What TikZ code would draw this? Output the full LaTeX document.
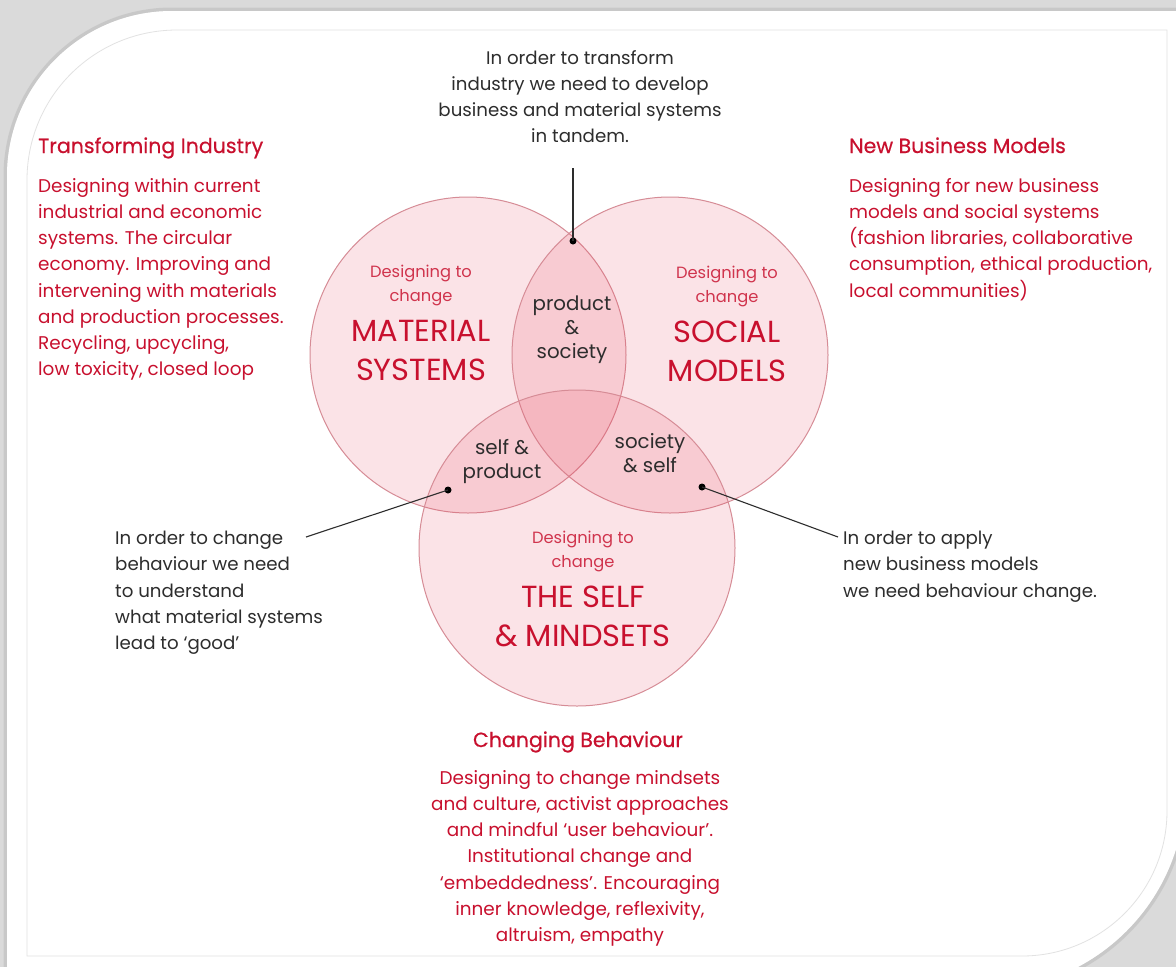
\documentclass[tikz,border=0pt]{standalone}
\usepackage{fontspec}
\setmainfont{Poppins}
\newfontfamily\headfont[FakeBold=0.5]{Poppins}
\usetikzlibrary{positioning}
\definecolor{vennred}{RGB}{200,16,46}
\definecolor{vennpink}{RGB}{232,70,95}
\definecolor{vennedge}{RGB}{214,140,150}
\definecolor{inkgrey}{RGB}{45,45,45}
\definecolor{framegrey}{RGB}{218,218,218}
\definecolor{frameline}{RGB}{226,226,226}
\tikzset{
  venn/.style={
    circle,
    draw=vennedge,
    line width=1pt,
    fill=vennpink,
    fill opacity=0.15,
    minimum size=316pt,
    inner sep=0pt
  },
  heading/.style={
    text=vennred,
    inner sep=0pt,
    font=\headfont\fontsize{20.5}{26}\selectfont
  },
  redbody/.style={
    text=vennred,
    align=left,
    inner sep=0pt,
    font=\fontsize{18.4}{26.2}\selectfont
  },
  note/.style={
    text=inkgrey,
    align=left,
    inner sep=0pt,
    font=\fontsize{18.2}{26.2}\selectfont
  },
  subtitle/.style={
    text=vennred!85,
    align=center,
    inner sep=0pt,
    font=\fontsize{16.3}{24}\selectfont
  },
  bigtitle/.style={
    text=vennred,
    align=center,
    inner sep=0pt,
    font=\fontsize{30.5}{39}\selectfont
  },
  lens/.style={
    text=inkgrey,
    align=center,
    inner sep=0pt,
    font=\fontsize{19.8}{24}\selectfont
  },
  dot/.style={circle,fill=black,minimum size=7pt,inner sep=0pt},
  leader/.style={draw=inkgrey,line width=1.1pt}
}

\begin{document}
\begin{tikzpicture}[x=1pt,y=-1pt]
\useasboundingbox (0,0) rectangle (1176,967);

% card with its shadow
\fill[framegrey] (0,0) rectangle (1176,967);
\path[draw=black!28,line width=7pt,draw opacity=0.5,fill=white]
  (7,1000) -- (7,176) .. controls (7,85) and (81,11) .. (172,11)
  -- (1185,11) -- (1185,790)
  .. controls (1185,900) and (1095,990) .. (985,990) -- cycle;
\fill[white]
  (7,1000) -- (7,176) .. controls (7,85) and (81,11) .. (172,11)
  -- (1185,11) -- (1185,790)
  .. controls (1185,900) and (1095,990) .. (985,990) -- cycle;
\draw[frameline,line width=0.8pt]
  (27,956) -- (27,180) .. controls (27,97) and (94,30) .. (177,30)
  -- (1167,30) -- (1167,811)
  .. controls (1167,891) and (1102,956) .. (1022,956) -- cycle;

\node[venn] (material) at (468,355) {};
\node[venn] (social) at (670,355) {};
\node[venn] (self) at (577,548) {};

\node[subtitle, anchor=north] (matsub) at (421,265) {Designing to\\change};
\node[bigtitle, below=14pt of matsub] (matbig) {MATERIAL\\SYSTEMS};
\node[subtitle, anchor=north] (socsub) at (727,266) {Designing to\\change};
\node[bigtitle, below=14pt of socsub] (socbig) {SOCIAL\\MODELS};
\node[subtitle, anchor=north] (selfsub) at (583,531) {Designing to\\change};
\node[bigtitle, below=14pt of selfsub] (selfbig) {THE SELF\\\& MINDSETS};

\node[lens, anchor=north] (prodsoc) at (572,296) {product\\\&\\society};
\node[lens, anchor=north] (selfprod) at (502,439) {self \&\\product};
\node[lens, anchor=north] (socself) at (650,433) {society\\\& self};

\node[dot] (ptop) at (573,241) {};
\node[dot] (pleft) at (448,490) {};
\node[dot] (pright) at (702,487) {};

\node[heading, anchor=base west] (tihead) at (38,153) {Transforming Industry};
\node[redbody, anchor=north west] (tibody) at (38,178)
  {Designing within current\\industrial and economic\\systems. The circular\\economy. Improving and\\intervening with materials\\and production processes.\\Recycling, upcycling,\\low toxicity, closed loop};

\node[heading, anchor=base west] (nbhead) at (849,153) {New Business Models};
\node[redbody, anchor=north west] (nbbody) at (849,178)
  {Designing for new business\\models and social systems\\(fashion libraries, collaborative\\consumption, ethical production,\\local communities)};

\node[heading, anchor=base] (cbhead) at (578,747) {Changing Behaviour};
\node[redbody, align=center, anchor=north] (cbbody) at (580,770)
  {Designing to change mindsets\\and culture, activist approaches\\and mindful ‘user behaviour’.\\Institutional change and\\‘embeddedness’. Encouraging\\inner knowledge, reflexivity,\\altruism, empathy};

\node[note, align=center, anchor=north] (topnote) at (580,50)
  {In order to transform\\industry we need to develop\\business and material systems\\in tandem.};
\node[note, anchor=north west] (leftnote) at (115,531)
  {In order to change\\behaviour we need\\to understand\\what material systems\\lead to ‘good’};
\node[note, anchor=north west] (rightnote) at (843,531)
  {In order to apply\\new business models\\we need behaviour change.};

\coordinate (toptail) at (573,168);
\coordinate (lefttail) at (306,537);
\coordinate (righttail) at (838,537);

\draw[leader] (toptail) -- (ptop.center);
\draw[leader] (lefttail) -- (pleft.center);
\draw[leader] (righttail) -- (pright.center);
\end{tikzpicture}
\end{document}
